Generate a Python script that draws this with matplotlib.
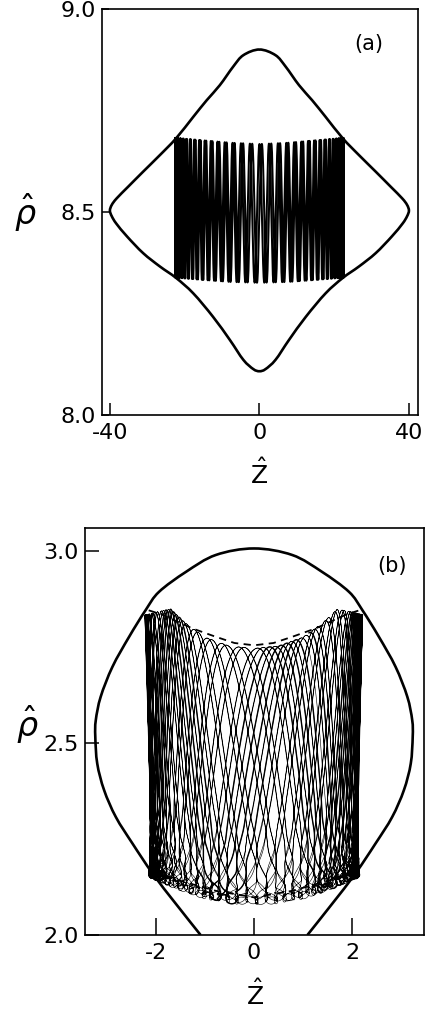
import numpy as np
import matplotlib
matplotlib.use("Agg")
import matplotlib.pyplot as plt
from matplotlib.path import Path
from matplotlib.patches import PathPatch

# ---------------- panel (a) ----------------
# separatrix, left half (Z <= 0): top vertex -> left vertex -> bottom vertex
sep_a_z = [0.0, -4.3, -7.0, -10.6, -14.1, -17.7, -22.3, -26.6, -31.1, -35.1, -38.2, -39.5, -40.0,
           -39.5, -38.3, -35.4, -31.1, -26.6, -22.3, -17.7, -12.4, -7.9, -4.3, -1.6, 0.0]
sep_a_rho = [8.901, 8.887, 8.859, 8.813, 8.776, 8.735, 8.682, 8.641, 8.600, 8.563, 8.534, 8.518, 8.504,
             8.490, 8.472, 8.440, 8.399, 8.366, 8.338, 8.300, 8.242, 8.185, 8.136, 8.113, 8.108]

# orbit envelope (turning surfaces) across the trapped region
orb_a_zmax = 22.5
orb_a_env_z = [-22.5, -15.0, -7.5, 0.0, 7.5, 15.0, 22.5]
orb_a_top = [8.683, 8.677, 8.671, 8.668, 8.671, 8.677, 8.683]
orb_a_bot = [8.339, 8.333, 8.328, 8.326, 8.328, 8.333, 8.339]
orb_a_freq_ratio = 68.5       # radial bounces per axial period
orb_a_periods = 1.0

# ---------------- panel (b) ----------------
# separatrix, left half: top -> left extreme -> exit through bottom axis
sep_b_z = [0.0, -0.78, -1.39, -1.94, -2.21, -2.55, -2.89, -3.13, -3.23, -3.24, -3.20,
           -3.06, -2.82, -2.48, -2.07, -1.60, -1.09]
sep_b_rho = [3.006, 2.989, 2.945, 2.893, 2.846, 2.776, 2.698, 2.620, 2.559, 2.516, 2.446,
             2.377, 2.307, 2.238, 2.160, 2.082, 2.000]

# adiabatic envelope (dashed)
env_b_z = [-2.15, -1.90, -1.50, -1.26, -0.80, -0.40, 0.0, 0.40, 0.80, 1.26, 1.50, 1.90, 2.15]
env_b_top = [2.845, 2.835, 2.812, 2.798, 2.777, 2.760, 2.754, 2.760, 2.777, 2.798, 2.812, 2.835, 2.845]
env_b_zb = [-2.05, -1.53, -0.78, 0.0, 0.78, 1.53, 2.05]
env_b_bot = [2.164, 2.142, 2.115, 2.098, 2.115, 2.142, 2.164]

# guiding-centre turning surfaces of the orbit
orb_b_env_z = [-2.25, -1.95, -1.70, -1.40, -1.00, -0.50, 0.0, 0.50, 1.00, 1.40, 1.70, 1.95, 2.25]
orb_b_top = [2.832, 2.842, 2.848, 2.812, 2.775, 2.752, 2.746, 2.752, 2.775, 2.812, 2.848, 2.842, 2.832]
orb_b_bot = [2.165, 2.150, 2.135, 2.120, 2.103, 2.091, 2.087, 2.091, 2.103, 2.120, 2.135, 2.150, 2.165]
orb_b_zmax = 2.15
orb_b_zshift = 0.07          # axial reach grows toward the outer turning surface
orb_b_freq_ratio = 7.13
orb_b_gyro_ratio = 94.0
orb_b_gyro_z = 0.075
orb_b_gyro_rho = 0.0095
orb_b_periods = 16.0
orb_b_bold_periods = 2.3     # early part of the run, drawn heavier


def smooth_path(xs, ys, closed=False):
    """Catmull-Rom curve through the given points, as cubic Bezier segments."""
    p = np.column_stack([xs, ys]).astype(float)
    n = len(p)
    verts = [p[0]]
    codes = [Path.MOVETO]
    segs = n if closed else n - 1
    for i in range(segs):
        p0 = p[(i - 1) % n] if (closed or i > 0) else p[i]
        p1 = p[i % n]
        p2 = p[(i + 1) % n]
        p3 = p[(i + 2) % n] if (closed or i + 2 < n) else p[(i + 1) % n]
        verts += [p1 + (p2 - p0) / 6.0, p2 - (p3 - p1) / 6.0, p2]
        codes += [Path.CURVE4] * 3
    return Path(verts, codes)


def axial_position(theta, zmax, stiff=2.0):
    """Axial bounce between mirror points: power-law arcs in a V-like well."""
    u = (2.0 / np.pi) * np.arcsin(np.sin(theta))
    return zmax * np.sign(u) * (1.0 - (1.0 - np.abs(u)) ** stiff)


fig = plt.figure(figsize=(4.26, 10.16), dpi=100)
plt.rcParams['font.family'] = ['DejaVu Sans']

ax_a = fig.add_axes([0.2387, 0.5915, 0.7432, 0.3993])
ax_b = fig.add_axes([0.1984, 0.0797, 0.7980, 0.4009])

# ---- (a) separatrix: mirror the left half to close the curve
za = np.array(sep_a_z)
ra = np.array(sep_a_rho)
loop_z = np.concatenate([za, -za[::-1][1:-1]])
loop_r = np.concatenate([ra, ra[::-1][1:-1]])
ax_a.add_patch(PathPatch(smooth_path(loop_z, loop_r, closed=True), fill=False,
                         lw=1.9, edgecolor='black', joinstyle='round'))

# ---- (a) orbit: fast radial bounce, slow axial oscillation (mirror point to mirror point)
ta = np.linspace(-0.5 * np.pi, -0.5 * np.pi + 2 * np.pi * orb_a_periods, 100000)
z_a = axial_position(ta, orb_a_zmax)
top_a = np.interp(z_a, orb_a_env_z, orb_a_top)
bot_a = np.interp(z_a, orb_a_env_z, orb_a_bot)
rho_a = 0.5 * (top_a + bot_a) + 0.5 * (top_a - bot_a) * np.cos(orb_a_freq_ratio * ta)
ax_a.plot(z_a, rho_a, color='black', lw=1.45)

ax_a.set_xlim(-42.2, 42.5)
ax_a.set_ylim(8.0, 9.0)
ax_a.set_xticks([-40, 0, 40])
ax_a.set_xticklabels(['-40', '0', '40'])
ax_a.set_yticks([8.0, 8.5, 9.0])
ax_a.set_yticklabels(['8.0', '8.5', '9.0'])
ax_a.tick_params(axis='x', direction='in', length=9, width=1.1, labelsize=16, pad=6)
ax_a.tick_params(axis='y', direction='in', length=5, width=1.1, labelsize=16, pad=4)
ax_a.text(0.845, 0.915, '(a)', transform=ax_a.transAxes, fontsize=15,
          ha='center', va='center')

# ---- (b) separatrix
zb = np.array(sep_b_z)
rb = np.array(sep_b_rho)
open_z = np.concatenate([zb[::-1], -zb[1:]])
open_r = np.concatenate([rb[::-1], rb[1:]])
ax_b.add_patch(PathPatch(smooth_path(open_z, open_r), fill=False,
                         lw=1.9, edgecolor='black', joinstyle='round'))

# ---- (b) orbit with gyration (Larmor loops only near the inner turning surface)
tb = np.linspace(0, 2 * np.pi * orb_b_periods, 320000)
phase_r = orb_b_freq_ratio * tb
zc = axial_position(tb + 0.4, orb_b_zmax + orb_b_zshift * np.cos(phase_r), stiff=2.4)
top_b = np.interp(zc, orb_b_env_z, orb_b_top)
bot_b = np.interp(zc, orb_b_env_z, orb_b_bot)
rc = 0.5 * (top_b + bot_b) + 0.5 * (top_b - bot_b) * np.cos(phase_r)
gyro = orb_b_gyro_ratio * tb
gscale = (0.5 * (1.0 - np.cos(phase_r))) ** 6
z_b = zc + orb_b_gyro_z * gscale * np.cos(gyro)
rho_b = rc + orb_b_gyro_rho * gscale * np.sin(gyro)
ax_b.plot(z_b, rho_b, color='black', lw=0.42)
nb = int(len(tb) * orb_b_bold_periods / orb_b_periods)
ax_b.plot(z_b[:nb], rho_b[:nb], color='black', lw=1.0)

# ---- (b) dashed envelopes
ax_b.plot(env_b_z, env_b_top, color='black', lw=1.3, ls=(0, (4, 3)))
ax_b.plot(env_b_zb, env_b_bot, color='black', lw=1.3, ls=(0, (4, 3)))

ax_b.set_xlim(-3.46, 3.48)
ax_b.set_ylim(2.0, 3.06)
ax_b.set_xticks([-2, 0, 2])
ax_b.set_xticklabels(['-2', '0', '2'])
ax_b.set_yticks([2.0, 2.5, 3.0])
ax_b.set_yticklabels(['2.0', '2.5', '3.0'])
ax_b.tick_params(axis='x', direction='in', length=12, width=1.1, labelsize=16, pad=6)
ax_b.tick_params(axis='y', direction='in', length=10, width=1.1, labelsize=16, pad=4)
ax_b.text(0.905, 0.905, '(b)', transform=ax_b.transAxes, fontsize=15,
          ha='center', va='center')

for ax in (ax_a, ax_b):
    for s in ax.spines.values():
        s.set_linewidth(1.2)

# axis titles
fig.text(25 / 426, 1 - 213 / 1016, r'$\hat{\rho}$', fontsize=24, ha='center', va='center')
fig.text(259 / 426, 1 - 474 / 1016, r'$\hat{\mathrm{Z}}$', fontsize=18, ha='center', va='center')
fig.text(27 / 426, 1 - 725 / 1016, r'$\hat{\rho}$', fontsize=24, ha='center', va='center')
fig.text(255 / 426, 1 - 995 / 1016, r'$\hat{\mathrm{Z}}$', fontsize=18, ha='center', va='center')

fig.savefig('out.png', dpi=100, facecolor='white')
